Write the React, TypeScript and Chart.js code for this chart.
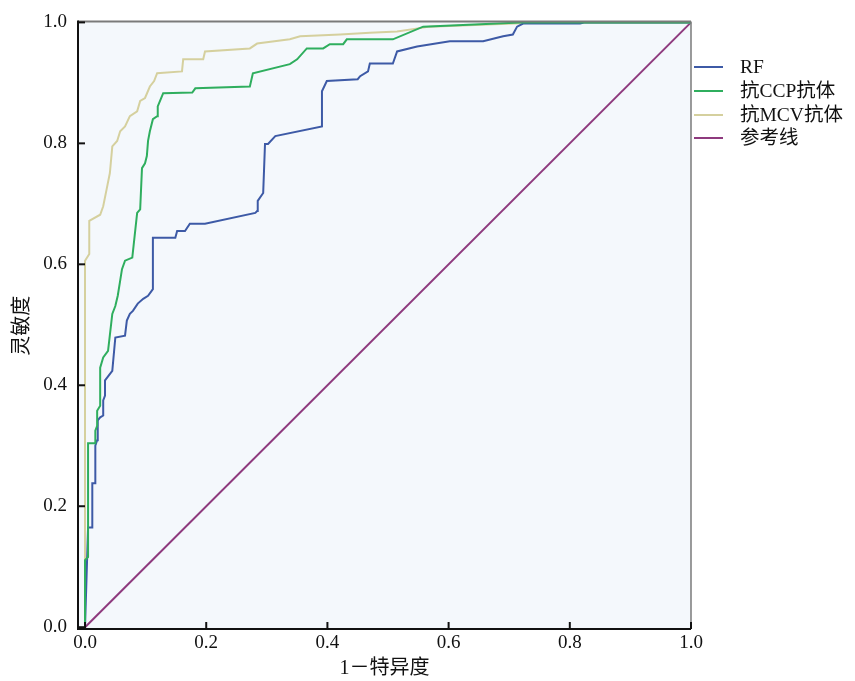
import React, { useEffect, useRef } from "react";
import { Chart, registerables } from "chart.js";

Chart.register(...registerables);

const seriesNames = ["RF", "抗CCP抗体", "抗MCV抗体", "参考线"];
const seriesColors = ["#3D5AA6", "#2FAE5E", "#D5D09E", "#8E3A7E"];

const rfX = [0, 0.005, 0.012, 0.012, 0.017, 0.017, 0.020, 0.021, 0.025, 0.030, 0.030, 0.033, 0.033, 0.045, 0.050, 0.066, 0.069, 0.074, 0.079, 0.087, 0.096, 0.104, 0.112, 0.112, 0.149, 0.152, 0.165, 0.173, 0.198, 0.281, 0.284, 0.285, 0.294, 0.297, 0.302, 0.314, 0.391, 0.391, 0.399, 0.450, 0.454, 0.467, 0.470, 0.508, 0.515, 0.548, 0.602, 0.657, 0.690, 0.706, 0.713, 0.723, 0.817, 0.825, 1];
const rfY = [0, 0.165, 0.165, 0.238, 0.238, 0.300, 0.309, 0.342, 0.347, 0.350, 0.375, 0.383, 0.408, 0.424, 0.479, 0.482, 0.507, 0.518, 0.523, 0.535, 0.543, 0.548, 0.559, 0.644, 0.644, 0.655, 0.655, 0.667, 0.667, 0.685, 0.688, 0.705, 0.718, 0.799, 0.799, 0.812, 0.828, 0.886, 0.903, 0.906, 0.911, 0.919, 0.932, 0.932, 0.952, 0.960, 0.969, 0.969, 0.977, 0.980, 0.993, 0.998, 0.998, 1, 1];

const ccpX = [0, 0, 0.005, 0.005, 0.017, 0.017, 0.020, 0.020, 0.025, 0.025, 0.030, 0.038, 0.045, 0.050, 0.054, 0.058, 0.061, 0.066, 0.078, 0.086, 0.091, 0.094, 0.099, 0.102, 0.104, 0.107, 0.112, 0.119, 0.120, 0.127, 0.129, 0.177, 0.182, 0.272, 0.277, 0.338, 0.350, 0.366, 0.393, 0.404, 0.426, 0.432, 0.508, 0.558, 0.652, 0.718, 1];
const ccpY = [0, 0.111, 0.116, 0.304, 0.304, 0.325, 0.333, 0.358, 0.366, 0.429, 0.446, 0.457, 0.518, 0.531, 0.548, 0.573, 0.592, 0.606, 0.611, 0.685, 0.691, 0.759, 0.767, 0.779, 0.804, 0.820, 0.840, 0.845, 0.861, 0.878, 0.883, 0.884, 0.891, 0.894, 0.916, 0.931, 0.939, 0.957, 0.957, 0.964, 0.964, 0.972, 0.972, 0.993, 0.997, 1, 1];

const mcvX = [0, 0, 0.007, 0.007, 0.025, 0.030, 0.036, 0.041, 0.045, 0.053, 0.058, 0.066, 0.074, 0.086, 0.091, 0.099, 0.107, 0.114, 0.119, 0.160, 0.162, 0.195, 0.198, 0.272, 0.284, 0.338, 0.355, 0.421, 0.470, 0.515, 0.569, 0.751, 1];
const mcvY = [0, 0.606, 0.617, 0.672, 0.682, 0.696, 0.726, 0.751, 0.795, 0.804, 0.820, 0.828, 0.845, 0.853, 0.870, 0.875, 0.894, 0.903, 0.916, 0.919, 0.939, 0.939, 0.952, 0.957, 0.965, 0.972, 0.977, 0.980, 0.983, 0.985, 0.993, 1, 1];

const refX = [0, 1];
const refY = [0, 1];

const tickValues = [0, 0.2, 0.4, 0.6, 0.8, 1.0];
const xTitle = "1－特异度";
const yTitle = "灵敏度";

const zip = (xs: number[], ys: number[]) => xs.map((x, i) => ({ x, y: ys[i] }));

const FONT = '"Liberation Serif", "Noto Sans CJK SC", serif';

export default function App() {
  const ref = useRef<HTMLCanvasElement | null>(null);
  useEffect(() => {
    if (!ref.current) return;
    const framePlugin = {
      id: "frame",
      beforeDatasetsDraw(chart: any) {
        const { ctx, chartArea: a } = chart;
        ctx.save();
        ctx.fillStyle = "#F4F8FC";
        ctx.fillRect(a.left, a.top, a.right - a.left, a.bottom - a.top);
        ctx.restore();
      },
      afterDraw(chart: any) {
        const { ctx, chartArea: a, scales } = chart;
        ctx.save();
        ctx.strokeStyle = "#7A7A7A";
        ctx.lineWidth = 2;
        ctx.beginPath();
        ctx.moveTo(a.left, a.top - 1);
        ctx.lineTo(a.right, a.top - 1);
        ctx.stroke();
        ctx.lineWidth = 1.5;
        ctx.beginPath();
        ctx.moveTo(a.right, a.top - 1);
        ctx.lineTo(a.right, a.bottom);
        ctx.stroke();
        ctx.strokeStyle = "#111";
        ctx.lineWidth = 2;
        ctx.beginPath();
        ctx.moveTo(a.left, a.top - 2);
        ctx.lineTo(a.left, a.bottom);
        ctx.lineTo(a.right, a.bottom);
        ctx.stroke();
        ctx.lineWidth = 2;
        tickValues.forEach((v) => {
          const px = scales.x.getPixelForValue(v);
          ctx.beginPath();
          ctx.moveTo(px, a.bottom);
          ctx.lineTo(px, a.bottom - 7);
          ctx.stroke();
          const py = scales.y.getPixelForValue(v);
          ctx.beginPath();
          ctx.moveTo(a.left, py);
          ctx.lineTo(a.left + 7, py);
          ctx.stroke();
        });
        const ys = [67, 91, 115, 138];
        ctx.font = "19.5px " + FONT;
        ctx.textBaseline = "middle";
        ctx.textAlign = "left";
        seriesNames.forEach((n, i) => {
          ctx.strokeStyle = seriesColors[i];
          ctx.lineWidth = 2;
          ctx.beginPath();
          ctx.moveTo(694, ys[i]);
          ctx.lineTo(723, ys[i]);
          ctx.stroke();
          ctx.fillStyle = "#111";
          ctx.fillText(n, 740, ys[i] + 1);
        });
        ctx.restore();
      },
    };
    const mk = (i: number, data: any[], order: number) => ({
      label: seriesNames[i],
      data,
      borderColor: seriesColors[i],
      backgroundColor: seriesColors[i],
      borderWidth: 2,
      pointRadius: 0,
      tension: 0,
      fill: false,
      order,
      clip: 2,
    });
    const chart = new Chart(ref.current, {
      type: "line",
      data: {
        datasets: [
          mk(0, zip(rfX, rfY), 1),
          mk(1, zip(ccpX, ccpY), 0),
          mk(2, zip(mcvX, mcvY), 2),
          mk(3, zip(refX, refY), 3),
        ],
      },
      options: {
        animation: false,
        responsive: false,
        devicePixelRatio: 1,
        layout: { padding: { top: 21, right: 164, left: 0, bottom: 0 } },
        plugins: { legend: { display: false }, tooltip: { enabled: false } },
        scales: {
          x: {
            type: "linear",
            min: -0.0116,
            max: 1.0,
            afterBuildTicks: (s: any) => {
              s.ticks = tickValues.map((v) => ({ value: v }));
            },
            afterFit: (s: any) => {
              s.height = 52;
            },
            grid: { display: false, drawTicks: false },
            border: { display: false },
            ticks: {
              padding: 3,
              color: "#111",
              font: { family: FONT, size: 19 },
              callback: (v: any) => Number(v).toFixed(1),
              maxRotation: 0,
              autoSkip: false,
            },
            title: {
              display: true,
              text: xTitle,
              color: "#111",
              font: { family: FONT, size: 20 },
              padding: { top: 0, bottom: 0 },
            },
          },
          y: {
            type: "linear",
            min: -0.003,
            max: 1.0,
            afterBuildTicks: (s: any) => {
              s.ticks = tickValues.map((v) => ({ value: v }));
            },
            afterFit: (s: any) => {
              s.width = 78;
            },
            grid: { display: false, drawTicks: false },
            border: { display: false },
            ticks: {
              padding: 11,
              color: "#111",
              font: { family: FONT, size: 19 },
              callback: (v: any) => Number(v).toFixed(1),
              autoSkip: false,
            },
            title: {
              display: true,
              text: yTitle,
              color: "#111",
              font: { family: FONT, size: 20 },
              padding: { top: 11, bottom: 4 },
            },
          },
        },
      },
      plugins: [framePlugin],
    } as any);
    return () => chart.destroy();
  }, []);
  return (
    <div style={{ position: "absolute", left: 0, top: 0, width: 855, height: 681, background: "#fff" }}>
      <canvas ref={ref} width={855} height={681} style={{ display: "block" }} />
    </div>
  );
}
